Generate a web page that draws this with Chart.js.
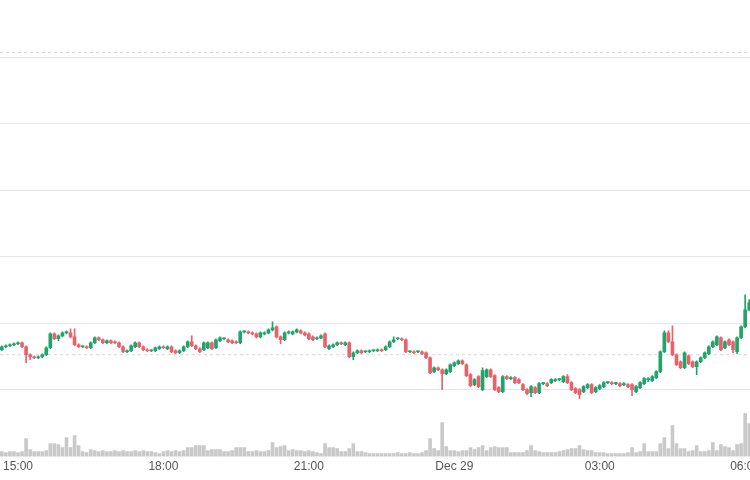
<!DOCTYPE html>
<html>
<head>
<meta charset="utf-8">
<script src="https://cdn.jsdelivr.net/npm/chart.js@4.4.1/dist/chart.umd.min.js"></script>
<style>
  html, body { margin: 0; padding: 0; background: #fff; }
  #wrap { width: 750px; height: 480px; position: relative; }
</style>
</head>
<body>
<div id="wrap"><canvas id="chart"></canvas></div>
<script>
// 5 minute candles, first one at 14:40 (minutes are counted from 15:00)
const startMinute = -20;
const stepMinutes = 5;

const open = [106,106.45,106.6,106.75,106.9,107.05,106.45,105.25,104.95,104.8,104.95,105.25,106.3,108.4,107.65,108.1,108.55,108.55,107.95,106.75,
  106.45,106.45,106.3,107.05,107.8,107.5,107.05,107.35,107.2,107.05,106.45,105.7,105.85,106.45,107.05,106.45,106,105.85,105.85,106.15,
  106.45,106.15,106.45,105.85,105.55,105.85,106.45,107.2,106.6,106.15,106,106.3,107.05,106.3,107.35,107.65,107.5,107.35,107.2,107.05,
  108.7,108.7,108.55,108.4,107.95,108.4,108.55,109,109.45,107.95,107.5,108.55,108.4,108.7,108.85,108.55,108.4,107.95,107.65,107.8,
  108.4,106.15,106.45,106.75,107.05,106.75,107.05,104.95,105.55,105.85,105.7,105.7,105.85,105.85,106,106,106.45,107.2,107.65,107.65,
  107.5,105.7,105.7,105.7,105.7,105.55,104.8,102.7,103.3,103,102.4,102.7,103.6,103.9,104.35,103.75,102.25,100.75,101.95,100,
  101.95,103,102.1,100.3,99.7,101.95,101.65,101.8,101.5,100.75,100,99.55,100.3,99.55,100.9,100.9,101.05,101.35,101.5,101.2,
  101.95,101.05,100.15,100,99.7,100.3,100.75,99.7,100.15,100.45,101.05,101.05,100.9,100.9,100.75,100.75,100.75,99.7,100.3,100.9,
  101.5,101.35,101.8,102.7,105.7,108.55,107.2,105.25,104.2,103.3,105.1,104.2,103.45,104.2,104.8,105.4,106.45,106.75,107.8,106.3,
  107.5,107.2,105.7,107.8,109.45,112];
const high = [106.6,106.75,106.9,107.05,107.2,107.2,106.6,105.4,105.1,105.1,105.4,106.45,108.55,108.55,108.25,108.7,108.85,109.15,109.15,106.9,
  106.6,106.6,107.2,107.95,107.95,107.65,107.5,107.5,107.35,107.2,106.6,106,106.75,107.2,107.2,106.6,106.15,106,106.45,106.6,
  106.6,106.6,106.6,106,106,106.6,107.35,108.1,106.75,106.3,107.2,107.2,107.2,107.65,107.95,107.8,107.65,107.5,107.35,108.85,
  108.85,108.85,108.7,108.55,108.7,108.7,109.15,110.2,109.6,108.1,108.7,108.85,108.85,109.15,109,108.7,108.55,108.1,107.95,108.25,
  108.55,106.75,106.9,107.2,107.2,107.2,107.2,105.7,106,106,105.85,106,106,106.15,106.15,106.6,107.35,107.95,107.8,107.8,
  107.65,105.85,105.85,105.85,105.85,105.7,104.95,103.45,103.45,103.15,103.15,103.9,104.2,104.5,104.5,103.9,102.4,101.65,102.1,103.3,
  103.15,103.15,102.25,100.45,102.1,102.1,101.95,101.95,101.65,100.9,100.15,100.6,100.45,101.05,101.05,101.05,101.65,101.65,101.65,102.1,
  102.25,101.2,100.3,100.15,100.6,100.9,100.9,100.45,100.75,101.2,101.2,101.2,101.05,101.05,101.05,100.9,100.9,100.6,101.2,101.8,
  101.8,102.1,102.85,105.85,108.85,108.85,109.6,105.4,104.35,105.7,105.25,104.35,104.35,104.95,105.7,106.6,107.35,108.1,107.95,107.35,
  107.65,107.35,107.95,109.6,114.25,113.5];
const low = [105.85,106.3,106.45,106.6,106.75,106.3,104.05,104.5,104.65,104.65,104.8,105.1,106.15,107.5,107.35,107.95,108.4,107.8,106.6,106.3,
  106.3,106.15,106.15,106.9,107.35,106.9,106.9,106.9,106.9,106.3,105.55,105.55,105.7,106.3,106.3,105.85,105.7,105.7,105.7,106,
  106.15,106,105.55,105.4,105.4,105.7,106.3,106.45,106,105.55,105.85,106.15,106,106.15,107.2,107.5,107.05,106.9,106.9,106.9,
  108.55,108.4,108.25,107.8,107.8,108.25,108.4,108.85,107.8,106.9,107.35,108.4,108.25,108.55,108.4,108.1,107.5,107.35,107.5,107.65,
  106.3,106,106.3,106.6,106.75,106.6,104.8,104.5,105.4,105.4,105.55,105.55,105.7,105.7,105.7,105.85,106.3,107.05,107.5,107.35,
  105.55,105.55,105.4,105.55,105.25,104.65,102.4,102.55,102.85,100,102.25,102.55,103.45,103.75,103.75,101.95,100.45,100.6,100.3,99.85,
  101.8,101.8,99.85,99.55,99.55,101.5,101.5,100.9,100.9,99.85,99.25,98.95,99.4,99.4,100.75,100.45,100.9,101.2,101.35,101.05,
  100.9,99.85,99.4,98.65,99.55,100.15,99.4,99.55,100,100.3,100.9,100.75,100.75,100.45,100.6,100.3,99.1,99.55,100.15,100.75,
  101.2,101.2,101.65,102.55,105.55,107.05,105.1,103.6,103.15,103.15,103.75,103.3,102.25,104.05,104.65,105.25,106.3,106.6,105.85,106.15,
  106.6,105.55,105.4,107.65,109.3,111.85];
const close = [106.45,106.6,106.75,106.9,107.05,106.45,105.25,104.95,104.8,104.95,105.25,106.3,108.4,107.65,108.1,108.55,108.55,107.95,106.75,106.45,
  106.45,106.3,107.05,107.8,107.5,107.05,107.35,107.05,107.05,106.45,105.7,105.85,106.6,107.05,106.45,106,105.85,105.85,106.3,106.45,
  106.3,106.45,105.7,105.55,105.85,106.45,107.2,106.6,106.15,105.7,107.05,107.05,106.15,107.5,107.8,107.65,107.2,107.05,107.05,108.7,
  108.7,108.55,108.4,107.95,108.55,108.55,109,109.3,107.95,107.5,108.55,108.55,108.7,109,108.55,108.25,107.65,107.5,107.8,108.1,
  106.45,106.6,106.75,107.05,106.9,107.05,104.95,105.55,105.85,105.55,105.7,105.85,105.85,106,105.85,106.45,107.2,107.5,107.65,107.5,
  105.7,105.7,105.55,105.7,105.4,104.8,102.55,103.3,103,102.4,103,103.75,104.05,104.35,103.9,102.1,100.6,101.5,100.45,102.85,
  103,101.95,100,99.7,101.95,101.65,101.8,101.05,101.05,100,99.4,100.45,99.55,100.9,100.9,100.6,101.5,101.5,101.5,101.95,
  101.05,100,99.55,99.25,100.45,100.75,99.55,100.3,100.6,101.05,101.05,100.9,100.9,100.6,100.9,100.45,100,100.45,101.05,101.65,
  101.65,101.95,102.7,105.7,108.55,107.2,105.25,103.75,103.3,105.55,103.9,103.45,104.2,104.8,105.55,106.45,107.2,107.95,106,107.2,
  106.75,106,107.8,109.45,112,113.05];
const volume = [5,4,5,5,4,5,18,7,5,5,5,6,13,13,12,9,19,9,21,11,
  5,4,7,6,5,6,5,5,6,5,6,5,5,6,5,6,5,5,4,3,
  5,6,5,6,5,6,9,9,11,11,11,6,7,7,7,5,5,6,9,9,
  9,5,5,6,5,5,6,14,9,10,11,6,7,6,6,5,6,5,4,3,
  13,9,9,8,5,5,8,13,5,5,4,3,3,3,3,3,3,3,4,3,
  3,4,3,3,4,6,18,8,6,34,10,6,6,5,6,6,9,7,9,11,
  6,9,10,9,9,9,4,4,4,4,6,11,6,5,4,4,4,4,5,6,
  7,8,8,11,7,6,6,4,4,4,3,3,3,3,3,4,9,4,5,13,
  5,5,5,13,19,8,31,13,8,8,5,6,11,5,5,6,14,6,12,10,
  9,6,12,13,43,33];

// axis bits
const gridValues = [100, 110, 120, 130, 140, 150];
const refLevels = [105.25, 150.7];
const tickMinutes = [0, 180, 360, 540, 720, 900];
const tickLabels = ['15:00', '18:00', '21:00', 'Dec 29', '03:00', '06:00'];

const xMin = -22.3, xMax = 906;
const priceMin = 89.93, priceMax = 158.61;
const volumeMax = 457;

const upColor = '#20a46b';
const downColor = '#e8626b';

const times = close.map((c, i) => startMinute + i * stepMinutes);
const candleColors = close.map((c, i) => c >= open[i] ? upColor : downColor);

const bodies = times.map((t, i) => ({ x: t, y: [open[i], close[i]] }));
const wicks = times.map((t, i) => ({ x: t, y: [low[i], high[i]] }));
const volBars = times.map((t, i) => ({ x: t, y: volume[i] }));

const refDatasets = refLevels.map(v => ({
    type: 'line',
    data: [{ x: xMin, y: v }, { x: xMax, y: v }],
    borderColor: '#d6d6d6',
    borderWidth: 1,
    borderDash: [3, 3],
    pointRadius: 0,
    order: 3
}));

new Chart(document.getElementById('chart'), {
    type: 'bar',
    data: {
        datasets: [
            {
                data: bodies,
                backgroundColor: candleColors,
                barThickness: 3,
                minBarLength: 1,
                grouped: false,
                order: 0
            },
            {
                data: wicks,
                backgroundColor: candleColors,
                barThickness: 1,
                minBarLength: 1,
                grouped: false,
                order: 1
            },
            {
                data: volBars,
                yAxisID: 'yv',
                backgroundColor: '#c9c9c9',
                barThickness: 3,
                grouped: false,
                order: 2
            },
            ...refDatasets
        ]
    },
    options: {
        responsive: true,
        maintainAspectRatio: false,
        animation: false,
        layout: { padding: { left: 0, right: 0, top: 0, bottom: 3 } },
        plugins: { legend: { display: false }, tooltip: { enabled: false } },
        scales: {
            x: {
                type: 'linear',
                min: xMin,
                max: xMax,
                offset: false,
                grid: { display: false, drawTicks: false, offset: false },
                border: { display: false },
                afterBuildTicks: scale => { scale.ticks = tickMinutes.map(v => ({ value: v })); },
                afterFit: scale => { scale.paddingLeft = 0; scale.paddingRight = 0; },
                ticks: {
                    autoSkip: false,
                    maxRotation: 0,
                    padding: 3,
                    color: '#555',
                    font: { family: '"Liberation Sans", Arial, sans-serif', size: 12 },
                    callback: v => tickLabels[tickMinutes.indexOf(v)]
                }
            },
            y: {
                position: 'right',
                min: priceMin,
                max: priceMax,
                afterBuildTicks: scale => { scale.ticks = gridValues.map(v => ({ value: v })); },
                afterFit: scale => { scale.width = 0; },
                ticks: { display: false },
                grid: { color: '#e7e7e7', lineWidth: 1, drawTicks: false },
                border: { display: false }
            },
            yv: {
                display: false,
                min: 0,
                max: volumeMax
            }
        }
    }
});
</script>
</body>
</html>
